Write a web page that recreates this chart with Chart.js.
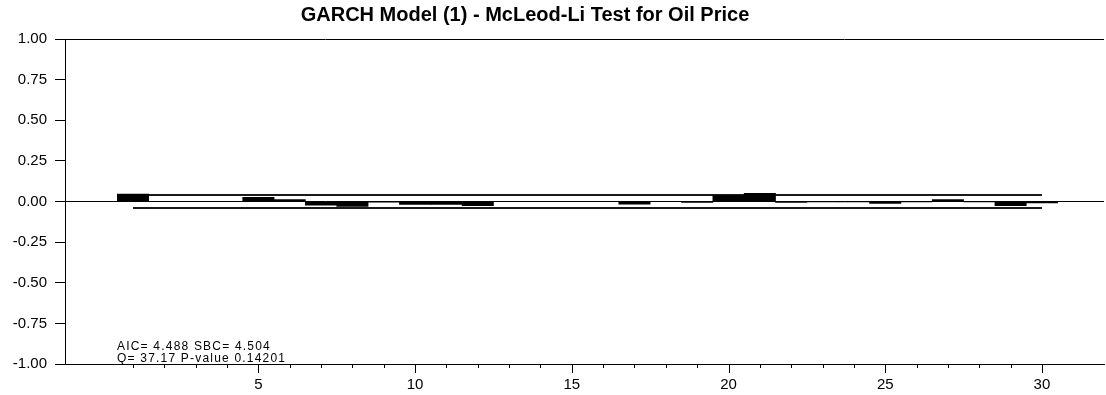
<!DOCTYPE html>
<html>
<head>
<meta charset="utf-8">
<script src="https://cdn.jsdelivr.net/npm/chart.js@4/dist/chart.umd.min.js"></script>
<style>
  html, body { margin: 0; padding: 0; background: #fff; }
  #wrap { width: 1106px; height: 395px; }
</style>
</head>
<body>
<div id="wrap"><canvas id="mcleodChart"></canvas></div>
<script>
// McLeod-Li autocorrelations of squared residuals, lags 1..30
const lags = [1, 2, 3, 4, 5, 6, 7, 8, 9, 10, 11, 12, 13, 14, 15, 16, 17, 18, 19, 20, 21, 22, 23, 24, 25, 26, 27, 28, 29, 30]
const acfValues = [0.046, 0, 0, 0, 0.026, 0.012, -0.022, -0.030, -0.004, -0.018,
  -0.018, -0.025, 0, 0, 0, 0, -0.017, 0, -0.005, 0.037,
  0.051, -0.005, -0.002, -0.002, -0.012, -0.002, 0.012, -0.003, -0.025, -0.008]
const confBand = 0.04
const yTicks = [-1, -0.75, -0.5, -0.25, 0, 0.25, 0.5, 0.75, 1]
const xLabelTicks = [5, 10, 15, 20, 25, 30]
const statLines = ["AIC= 4.488 SBC= 4.504", "Q= 37.17 P-value 0.14201"]
const titleText = "GARCH Model (1) - McLeod-Li Test for Oil Price"

const FONT = "'Liberation Sans', Arial, sans-serif"

// x tick marks (short for every lag, long for labelled ones) + title + stats text
const extrasPlugin = {
  id: "extras",
  afterDraw(chart) {
    const ctx = chart.ctx
    const xs = chart.scales.x
    const area = chart.chartArea
    ctx.save()
    ctx.strokeStyle = "#000"
    ctx.lineWidth = 1
    lags.forEach((lag) => {
      const px = Math.round(xs.getPixelForValue(lag)) + 0.5
      const len = xLabelTicks.includes(lag) ? 9 : 4
      ctx.beginPath()
      ctx.moveTo(px, area.bottom)
      ctx.lineTo(px, area.bottom + len)
      ctx.stroke()
    })

    ctx.fillStyle = "#000"
    ctx.font = "bold 20px " + FONT
    ctx.textAlign = "center"
    ctx.textBaseline = "middle"
    ctx.fillText(titleText, 525, 15)

    ctx.font = "12px " + FONT
    ctx.letterSpacing = "1.2px"
    ctx.textAlign = "left"
    ctx.fillText(statLines[0], 117, 347)
    ctx.fillText(statLines[1], 117, 359)
    ctx.restore()
  },
}

function initializeChart() {
  const el = document.getElementById("mcleodChart")

  new Chart(el, {
    type: "bar",
    data: {
      datasets: [
        {
          type: "bar",
          data: lags.map((lag, i) => ({ x: lag, y: acfValues[i] })),
          backgroundColor: "#000",
          borderWidth: 0,
          barPercentage: 1,
          categoryPercentage: 1,
          order: 0,
        },
        {
          type: "line",
          data: [
            { x: lags[0], y: confBand },
            { x: lags[lags.length - 1], y: confBand },
          ],
          borderColor: "#1a1a1a",
          borderWidth: 2,
          pointRadius: 0,
          order: 1,
        },
        {
          type: "line",
          data: [
            { x: lags[0], y: -confBand },
            { x: lags[lags.length - 1], y: -confBand },
          ],
          borderColor: "#1a1a1a",
          borderWidth: 2,
          pointRadius: 0,
          order: 1,
        },
      ],
    },
    options: {
      responsive: true,
      maintainAspectRatio: false,
      animation: false,
      layout: {
        padding: { top: 39, right: 2, left: 0, bottom: 0 },
      },
      plugins: {
        legend: { display: false },
        tooltip: { enabled: false },
        title: { display: false },
      },
      scales: {
        x: {
          type: "linear",
          offset: false,
          min: -1.17,
          max: 31.98,
          afterFit: (s) => { s.height = 31 },
          afterBuildTicks: (s) => {
            s.ticks = xLabelTicks.map((v) => ({ value: v }))
          },
          grid: { display: false },
          border: { display: true, color: "#000", width: 1 },
          ticks: {
            color: "#000",
            padding: 4,
            maxRotation: 0,
            autoSkip: false,
            font: { family: FONT, size: 15 },
          },
        },
        y: {
          min: -1,
          max: 1,
          afterFit: (s) => { s.width = 65 },
          afterBuildTicks: (s) => {
            s.ticks = yTicks.map((v) => ({ value: v }))
          },
          grid: {
            drawOnChartArea: true,
            drawTicks: true,
            tickLength: 10,
            tickColor: "#000",
            color: (c) => (c.tick && (c.tick.value === 1 || c.tick.value === 0) ? "#000" : "rgba(0,0,0,0)"),
          },
          border: { display: true, color: "#000", width: 1 },
          ticks: {
            color: "#000",
            padding: 8,
            font: { family: FONT, size: 15 },
            callback: (v) => Number(v).toFixed(2),
          },
        },
      },
    },
    plugins: [extrasPlugin],
  })
}

document.addEventListener("DOMContentLoaded", () => {
  initializeChart()
})
</script>
</body>
</html>
